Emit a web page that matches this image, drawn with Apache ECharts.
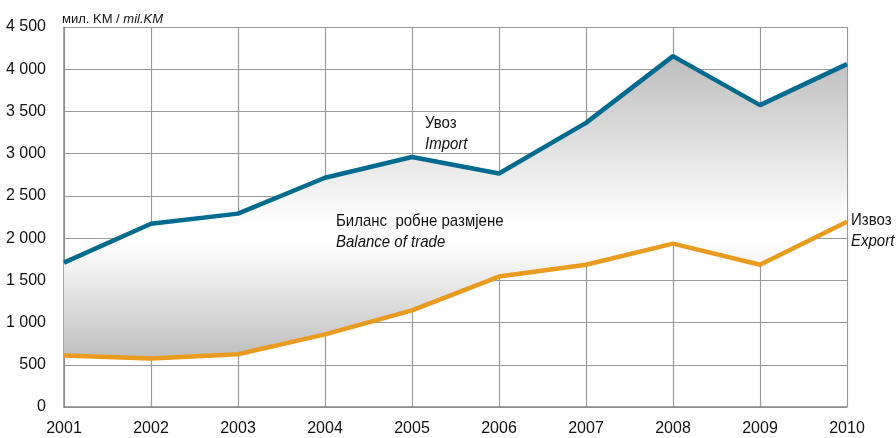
<!DOCTYPE html>
<html>
<head>
<meta charset="utf-8">
<script src="https://cdn.jsdelivr.net/npm/echarts@6/dist/echarts.min.js"></script>
<style>
  html, body { margin: 0; padding: 0; background: #fff; }
  #chart { width: 896px; height: 438px; }
</style>
</head>
<body>
<div id="chart"></div>
<script>
const years = ['2001', '2002', '2003', '2004', '2005', '2006', '2007', '2008', '2009', '2010']
const importValues = [1710, 2170, 2290, 2715, 2960, 2765, 3365, 4155, 3575, 4060]
const exportValues = [610, 575, 625, 860, 1145, 1545, 1685, 1935, 1685, 2195]
// fill between the two lines
const balanceValues = importValues.map((v, i) => v - exportValues[i])

const chart = echarts.init(document.getElementById('chart'))
const font = 'Liberation Sans, Arial, sans-serif'
const gridColor = '#9a9a9a'

// annotation text, stretched a little vertically like the original
function note(text, x, y, italic) {
  return {
    type: 'text', x: x, y: y, scaleY: 1.12, z: 10,
    style: { text: text, font: (italic ? 'italic ' : '') + '15px ' + font, fill: '#111' }
  }
}

const option = {
  backgroundColor: '#ffffff',
  animation: false,
  grid: { left: 64, right: 49, top: 27, bottom: 31 },
  xAxis: {
    type: 'category',
    data: years,
    boundaryGap: false,
    axisLine: { lineStyle: { color: '#888', width: 1.5 } },
    axisTick: { show: false },
    axisLabel: { color: '#111', fontFamily: font, fontSize: 16, margin: 14 },
    splitLine: { show: true, lineStyle: { color: gridColor, width: 1.2 } }
  },
  yAxis: {
    type: 'value',
    min: 0,
    max: 4500,
    interval: 500,
    name: '{a|мил. KM / }{b|mil.KM}',
    nameGap: 1,
    nameTextStyle: {
      align: 'left',
      padding: [0, 0, 0, -2],
      rich: {
        a: { fontFamily: font, fontSize: 13, color: '#111' },
        b: { fontFamily: font, fontSize: 13, color: '#111', fontStyle: 'italic' }
      }
    },
    axisLine: { show: true, lineStyle: { color: '#888', width: 1.5 } },
    axisTick: { show: false },
    axisLabel: {
      color: '#111',
      fontFamily: font,
      fontSize: 16,
      margin: 18,
      formatter: v => String(v).replace(/\B(?=(\d{3})+(?!\d))/g, ' ')
    },
    splitLine: { lineStyle: { color: gridColor, width: 1.2 } }
  },
  series: [
    {
      name: 'base',
      type: 'line',
      stack: 'bal',
      data: exportValues,
      symbol: 'none',
      lineStyle: { width: 0 },
      areaStyle: { color: 'rgba(0,0,0,0)' },
      silent: true,
      z: 1
    },
    {
      name: 'balance',
      type: 'line',
      stack: 'bal',
      data: balanceValues,
      symbol: 'none',
      lineStyle: { width: 0 },
      areaStyle: {
        opacity: 1,
        color: new echarts.graphic.LinearGradient(0, 0, 0, 1, [
          { offset: 0, color: '#bdbdbd' },
          { offset: 0.55, color: '#ffffff' },
          { offset: 0.62, color: '#ffffff' },
          { offset: 1, color: '#bebebe' }
        ])
      },
      silent: true,
      z: 2
    },
    {
      name: 'Import',
      type: 'line',
      data: importValues,
      symbol: 'none',
      lineStyle: { color: '#006b8f', width: 4.5 },
      z: 3
    },
    {
      name: 'Export',
      type: 'line',
      data: exportValues,
      symbol: 'none',
      lineStyle: { color: '#e89b1e', width: 4.5 },
      z: 3
    }
  ],
  graphic: [
    note('Увоз', 425, 115, false),
    note('Import', 425, 136, true),
    note('Биланс  робне размјене', 336, 213, false),
    note('Balance of trade', 336, 234, true),
    note('Извоз', 851, 212, false),
    note('Export', 851, 233, true)
  ]
}
chart.setOption(option)
</script>
</body>
</html>
